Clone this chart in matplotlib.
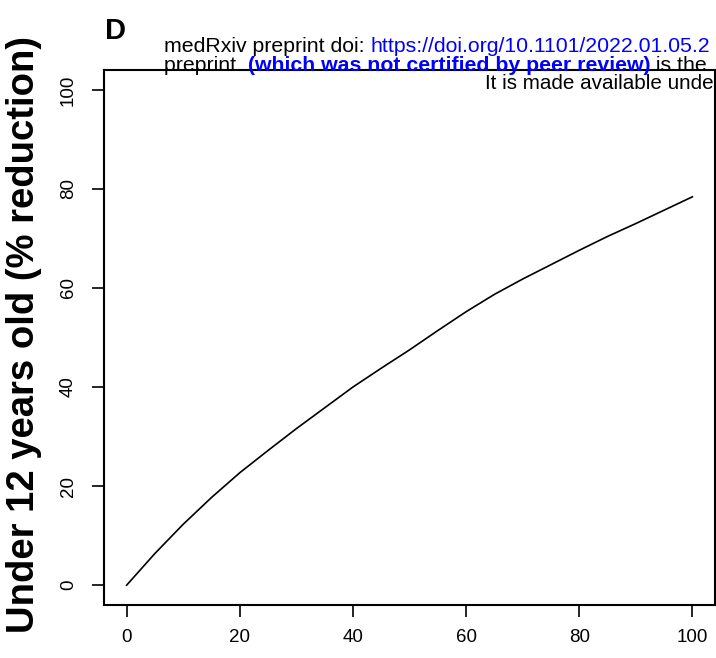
import matplotlib
matplotlib.use('Agg')
import matplotlib.pyplot as plt

plt.rcParams['font.family'] = ['Liberation Sans', 'DejaVu Sans']

# values
coverage = [0, 5, 10, 15, 20, 25, 30, 35, 40, 45, 50, 55, 60, 65, 70, 75, 80, 85, 90, 95, 100]
reduction = [0, 6.4, 12.3, 17.7, 22.7, 27.2, 31.6, 35.8, 40.0, 43.8, 47.5, 51.4, 55.2, 58.7,
             61.8, 64.7, 67.6, 70.4, 73.0, 75.7, 78.4]
ticks = [0, 20, 40, 60, 80, 100]

fig = plt.figure(figsize=(7.16, 6.58), dpi=100)
ax = fig.add_axes([104 / 716, 53 / 658, 611 / 716, 535 / 658])

ax.plot(coverage, reduction, color='black', linewidth=1.2)
ax.set_xlim(-4, 104)
ax.set_ylim(-4, 104)
ax.set_xticks(ticks)
ax.set_yticks(ticks)
ax.tick_params(axis='both', direction='out', length=8.5, width=1.2, labelsize=13.5)
ax.tick_params(axis='x', pad=9)
ax.tick_params(axis='y', pad=11)
for lab in ax.get_yticklabels():
    lab.set_rotation(90)
    lab.set_va('center')
for s in ax.spines.values():
    s.set_linewidth(1.5)

fig.text(24 / 716, 0.491, 'Under 12 years old (% reduction)', rotation=90,
         fontsize=27.5, fontweight='bold', ha='center', va='center')
fig.text(105 / 716, 1 - 39 / 658, 'D', fontsize=21, fontweight='bold')

# medRxiv overlay text
fs = 15.3
t = fig.text(164 / 716, 1 - 52 / 658, 'medRxiv preprint doi: ', fontsize=fs)
fig.canvas.draw()
bb = t.get_window_extent()
fig.text(bb.x1 / 716, 1 - 52 / 658, 'https://doi.org/10.1101/2022.01.05.2', fontsize=fs, color='#0000ff')

t2 = fig.text(164 / 716, 1 - 71 / 658, 'preprint  ', fontsize=fs)
fig.canvas.draw()
bb2 = t2.get_window_extent()
t3 = fig.text(bb2.x1 / 716, 1 - 71 / 658, '(which was not certified by peer review)', fontsize=fs,
              fontweight='bold', color='#0000ff')
fig.canvas.draw()
bb3 = t3.get_window_extent()
fig.text(bb3.x1 / 716, 1 - 71 / 658, ' is the', fontsize=fs)

fig.text(714 / 716, 1 - 89 / 658, 'It is made available unde', fontsize=14.9, ha='right')

fig.savefig('out.png', dpi=100)
